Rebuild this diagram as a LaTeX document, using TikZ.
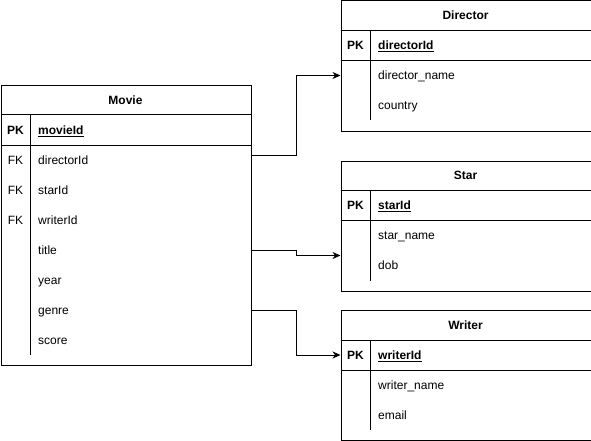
\documentclass[tikz,border=0pt]{standalone}
\usepackage{fontspec}
\setmainfont{Liberation Sans}
\usetikzlibrary{arrows.meta,calc}
\begin{document}
\begin{tikzpicture}[x=1pt,y=-1pt,
  tbl/.style={draw, line width=1pt, anchor=north west, inner sep=0pt,
    minimum width=250pt, minimum height=#1},
  rule/.style={line width=1pt},
  txt/.style={font=\fontsize{12}{14}\selectfont, inner sep=0pt,
    text height=8.5pt, text depth=0pt},
  ttl/.style={txt, font=\fontsize{12}{14}\selectfont\bfseries},
  key/.style={txt},
  pkey/.style={txt, font=\fontsize{12}{14}\selectfont\bfseries},
  fld/.style={txt, anchor=west},
  link/.style={line width=1pt, -{Stealth[length=8pt,width=7pt,inset=2.5pt]}}
]
\useasboundingbox (0,0) rectangle (591,441);

% ---------- Movie ----------
\node[tbl=280pt] (movie) at (0.5,85) {};
\draw[rule] (0.5,115) -- (250.5,115);
\draw[rule] (0.5,145) -- (250.5,145);
\draw[rule] (30.5,115) -- (30.5,355);
\node[ttl] (movie-t) at (125.5,100) {Movie};
\node[pkey] (movie-pkl) at (15.5,130) {PK};
\node[fld] (movie-pk) at (38,130) {\bfseries\underline{movieId}};
\node[key] (movie-fk1) at (15.5,160) {FK};
\node[fld] (movie-dir) at (38,160) {directorId};
\node[key] (movie-fk2) at (15.5,190) {FK};
\node[fld] (movie-star) at (38,190) {starId};
\node[key] (movie-fk3) at (15.5,220) {FK};
\node[fld] (movie-wri) at (38,220) {writerId};
\node[fld] (movie-title) at (38,250) {title};
\node[fld] (movie-year) at (38,280) {year};
\node[fld] (movie-genre) at (38,310) {genre};
\node[fld] (movie-score) at (38,340) {score};

% ---------- Director ----------
\node[tbl=130pt] (director) at (340.5,0.5) {};
\draw[rule] (340.5,30.5) -- (590.5,30.5);
\draw[rule] (340.5,60.5) -- (590.5,60.5);
\draw[rule] (370.5,30.5) -- (370.5,120.5);
\node[ttl] (dir-t) at (465.5,15.5) {Director};
\node[pkey] (dir-pkl) at (355.5,45.5) {PK};
\node[fld] (dir-pk) at (378,45.5) {\bfseries\underline{directorId}};
\node[fld] (dir-name) at (378,75.5) {director\_name};
\node[fld] (dir-country) at (378,105.5) {country};

% ---------- Star ----------
\node[tbl=130pt] (star) at (340.5,160.5) {};
\draw[rule] (340.5,190.5) -- (590.5,190.5);
\draw[rule] (340.5,220.5) -- (590.5,220.5);
\draw[rule] (370.5,190.5) -- (370.5,280.5);
\node[ttl] (star-t) at (465.5,175.5) {Star};
\node[pkey] (star-pkl) at (355.5,205.5) {PK};
\node[fld] (star-pk) at (378,205.5) {\bfseries\underline{starId}};
\node[fld] (star-name) at (378,235.5) {star\_name};
\node[fld] (star-dob) at (378,265.5) {dob};

% ---------- Writer ----------
\node[tbl=130pt] (writer) at (340.5,310) {};
\draw[rule] (340.5,340) -- (590.5,340);
\draw[rule] (340.5,370) -- (590.5,370);
\draw[rule] (370.5,340) -- (370.5,430);
\node[ttl] (wri-t) at (465.5,325) {Writer};
\node[pkey] (wri-pkl) at (355.5,355) {PK};
\node[fld] (wri-pk) at (378,355) {\bfseries\underline{writerId}};
\node[fld] (wri-name) at (378,385) {writer\_name};
\node[fld] (wri-email) at (378,415) {email};

% ---------- Relationships ----------
\draw[link] ($(movie-dir -| movie.east)+(0,-5)$) -- ++(45,0) |- (dir-name -| director.west);
\draw[link] (movie-title -| movie.east) -- ++(45,0) |- ($(star-dob -| star.west)+(0,-10)$);
\draw[link] (movie-genre -| movie.east) -- ++(45,0) |- (wri-pk -| writer.west);
\end{tikzpicture}
\end{document}
